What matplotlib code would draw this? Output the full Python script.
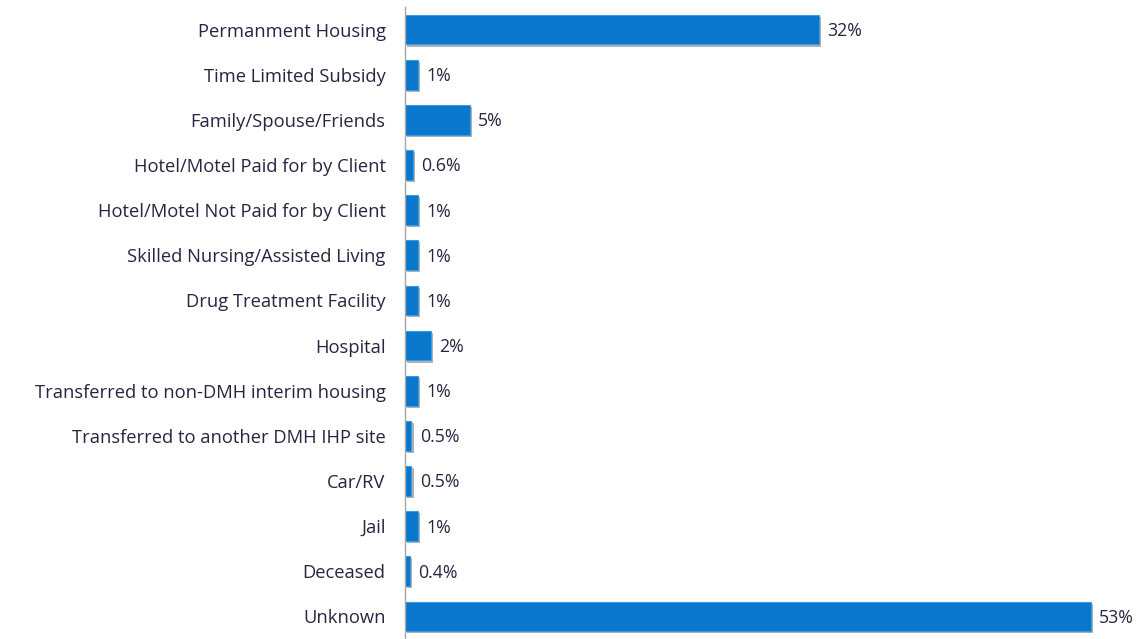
import numpy as np
import matplotlib.pyplot as plt
import matplotlib.patheffects as pe

categories = ['Permanment Housing', 'Time Limited Subsidy', 'Family/Spouse/Friends',
              'Hotel/Motel Paid for by Client', 'Hotel/Motel Not Paid for by Client',
              'Skilled Nursing/Assisted Living', 'Drug Treatment Facility', 'Hospital',
              'Transferred to non-DMH interim housing', 'Transferred to another DMH IHP site',
              'Car/RV', 'Jail', 'Deceased', 'Unknown']
values = [32, 1, 5, 0.6, 1, 1, 1, 2, 1, 0.5, 0.5, 1, 0.4, 53]
value_labels = ['32%', '1%', '5%', '0.6%', '1%', '1%', '1%', '2%', '1%', '0.5%', '0.5%', '1%', '0.4%', '53%']

plt.rcParams['font.family'] = ['Open Sans', 'DejaVu Sans']

fig = plt.figure(figsize=(11.41, 6.39), dpi=100)
ax = fig.add_axes([405 / 1141, 0.0, 695 / 1141, 1 - 7 / 639])

y = np.arange(len(categories))
bars = ax.barh(y, values, height=0.66, color='#0877CC', edgecolor='#3C9BE0', linewidth=0.8)
for b in bars:
    b.set_path_effects([pe.SimplePatchShadow(offset=(1.5, -1.5), shadow_rgbFace='#555555', alpha=0.45),
                        pe.Normal()])

for yi, v, lab in zip(y, values, value_labels):
    ax.annotate(lab, (v, yi), xytext=(6, -1), textcoords='offset points',
                va='center', ha='left', fontsize=12.8, color='#262640')

ax.set_yticks(y)
ax.set_yticklabels(categories, fontsize=13.2, color='#262640')
ax.tick_params(axis='y', length=0, pad=14)
ax.set_xticks([])
ax.set_xlim(0, 53.7)
ax.set_ylim(len(categories) - 0.5, -0.5)

for s in ['top', 'right', 'bottom']:
    ax.spines[s].set_visible(False)
ax.spines['left'].set_color('#A6A6A6')
ax.spines['left'].set_linewidth(1)

plt.savefig('out.png', dpi=100)
